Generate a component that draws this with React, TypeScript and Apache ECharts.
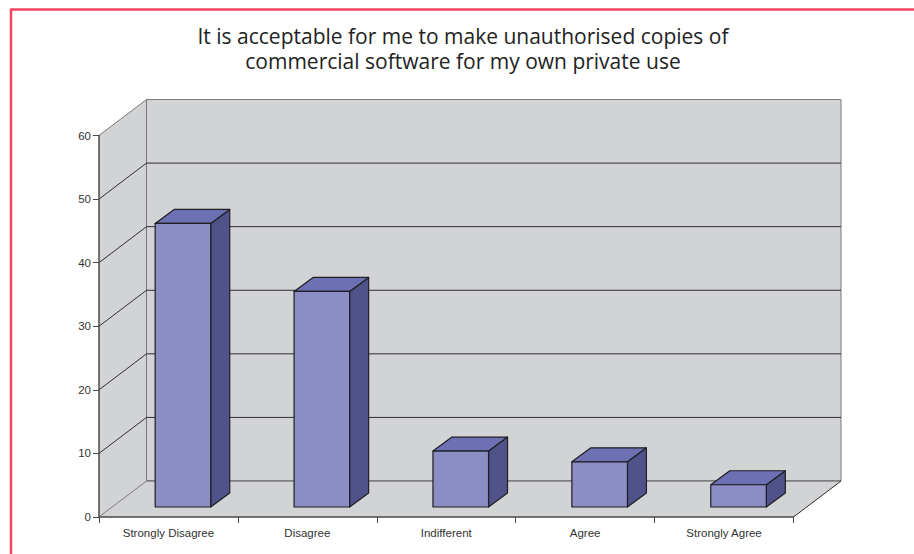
import React, { useEffect, useRef } from "react";
import * as echarts from "echarts";

const titleLines = [
  "It is acceptable for me to make unauthorised copies of",
  "commercial software for my own private use",
];
const categories = ["Strongly Disagree", "Disagree", "Indifferent", "Agree", "Strongly Agree"];
const responses = [44.6, 33.9, 8.8, 7.1, 3.5];
const gridValues = [10, 20, 30, 40, 50];
const yMin = 0;
const yMax = 60;
const yStep = 10;

// Projection of the 3D box: how far the back plane sits from the front plane.
const DEPTH_X = 47.5;
const DEPTH_Y = 36;
// Where each bar's front face sits inside the box, and how deep the bar is.
const BAR_INSET_X = 14.5;
const BAR_INSET_Y = 10;
const BAR_DEPTH_X = 19;
const BAR_DEPTH_Y = 14;
const BAR_WIDTH_RATIO = 0.4;

const WALL = "#d2d3d5";
const EDGE = "#7a7a7c";
const RULE = "#2e2e30";

function renderBox(params: any, api: any) {
  const { x, y, width, height } = params.coordSys;
  const right = x + width;
  const floor = y + height;
  const wallStyle = { fill: WALL, stroke: "none" };
  const children: any[] = [
    {
      type: "polygon",
      shape: { points: [[x, y], [x + DEPTH_X, y - DEPTH_Y], [x + DEPTH_X, floor - DEPTH_Y], [x, floor]] },
      style: wallStyle,
    },
    {
      type: "rect",
      shape: { x: x + DEPTH_X, y: y - DEPTH_Y, width, height },
      style: { fill: WALL, stroke: EDGE, lineWidth: 1 },
    },
    {
      type: "polygon",
      shape: { points: [[x, floor], [right, floor], [right + DEPTH_X, floor - DEPTH_Y], [x + DEPTH_X, floor - DEPTH_Y]] },
      style: wallStyle,
    },
  ];
  const line = (x1: number, y1: number, x2: number, y2: number, stroke: string) => ({
    type: "line",
    shape: { x1, y1, x2, y2 },
    style: { stroke, lineWidth: 1 },
  });
  gridValues.forEach((v) => {
    const py = api.coord([0, v])[1];
    children.push(line(x, py, x + DEPTH_X, py - DEPTH_Y, RULE));
    children.push(line(x + DEPTH_X, py - DEPTH_Y, right + DEPTH_X, py - DEPTH_Y, RULE));
  });
  children.push(line(x, y, x + DEPTH_X, y - DEPTH_Y, EDGE));
  children.push(line(x, floor, x + DEPTH_X, floor - DEPTH_Y, EDGE));
  children.push(line(x + DEPTH_X, floor - DEPTH_Y, right + DEPTH_X, floor - DEPTH_Y, "#555557"));
  children.push(line(right, floor, right + DEPTH_X, floor - DEPTH_Y, RULE));
  return { type: "group", children };
}

function renderBar(_params: any, api: any) {
  const top = api.coord([api.value(0), api.value(1)]);
  const base = api.coord([api.value(0), 0]);
  const w = api.size([1, 0])[0] * BAR_WIDTH_RATIO;
  const x0 = top[0] - w / 2 + BAR_INSET_X;
  const x1 = x0 + w;
  const yTop = top[1] - BAR_INSET_Y;
  const yBase = base[1] - BAR_INSET_Y;
  const outline = { stroke: "#1f1f24", lineWidth: 1.2, lineJoin: "round" };
  return {
    type: "group",
    children: [
      {
        type: "polygon",
        shape: { points: [[x1, yTop], [x1 + BAR_DEPTH_X, yTop - BAR_DEPTH_Y], [x1 + BAR_DEPTH_X, yBase - BAR_DEPTH_Y], [x1, yBase]] },
        style: { fill: "#50528a", ...outline },
      },
      {
        type: "polygon",
        shape: { points: [[x0, yTop], [x0 + BAR_DEPTH_X, yTop - BAR_DEPTH_Y], [x1 + BAR_DEPTH_X, yTop - BAR_DEPTH_Y], [x1, yTop]] },
        style: { fill: "#6d70b3", ...outline },
      },
      {
        type: "rect",
        shape: { x: x0, y: yTop, width: w, height: yBase - yTop },
        style: { fill: "#8b8dc4", ...outline },
      },
    ],
  };
}

const titleStyle = {
  fontFamily: "'Open Sans', sans-serif",
  fontSize: 21,
  fontWeight: "normal",
  color: "#222222",
};

export default function App() {
  const ref = useRef<HTMLDivElement>(null);

  useEffect(() => {
    document.body.style.margin = "0";
    const chart = echarts.init(ref.current!, null, { renderer: "svg" });
    chart.setOption({
      animation: false,
      backgroundColor: "#ffffff",
      graphic: [
        { type: "line", z: 20, shape: { x1: 11, y1: 9.5, x2: 914, y2: 9.5 }, style: { stroke: "#f0435f", lineWidth: 2.5 } },
        { type: "line", z: 20, shape: { x1: 11, y1: 8.5, x2: 11, y2: 554 }, style: { stroke: "#f0435f", lineWidth: 2.5 } },
      ],
      title: [
        { text: titleLines[0], left: 458, top: 20, textAlign: "center", textStyle: titleStyle },
        { text: titleLines[1], left: 458, top: 45, textAlign: "center", textStyle: titleStyle },
      ],
      grid: { left: 99, top: 135.5, right: 120.5, bottom: 37 },
      xAxis: {
        type: "category",
        data: categories,
        z: 3,
        axisLine: { lineStyle: { color: "#4a4a4c", width: 1.5 } },
        axisTick: { show: true, length: 6, interval: 0, lineStyle: { color: "#4a4a4c", width: 1 } },
        axisLabel: { interval: 0, margin: 10, fontFamily: "'Liberation Sans', Arial, sans-serif", fontSize: 11.5, color: "#333333" },
      },
      yAxis: {
        type: "value",
        min: yMin,
        max: yMax,
        interval: yStep,
        z: 3,
        splitLine: { show: false },
        axisLine: { show: true, lineStyle: { color: "#4a4a4c", width: 1.5 } },
        axisTick: { show: true, length: 6, lineStyle: { color: "#4a4a4c", width: 1 } },
        axisLabel: { margin: 8, fontFamily: "'Liberation Sans', Arial, sans-serif", fontSize: 11.5, color: "#333333" },
      },
      series: [
        {
          type: "custom",
          z: 1,
          silent: true,
          clip: false,
          data: [[0, 0]],
          encode: { x: 0, y: 1 },
          renderItem: renderBox,
        },
        {
          type: "custom",
          z: 2,
          silent: true,
          clip: false,
          data: responses.map((v, i) => [i, v]),
          encode: { x: 0, y: 1 },
          renderItem: renderBar,
        },
      ],
    });
    return () => chart.dispose();
  }, []);

  return <div ref={ref} style={{ width: 914, height: 554 }} />;
}
